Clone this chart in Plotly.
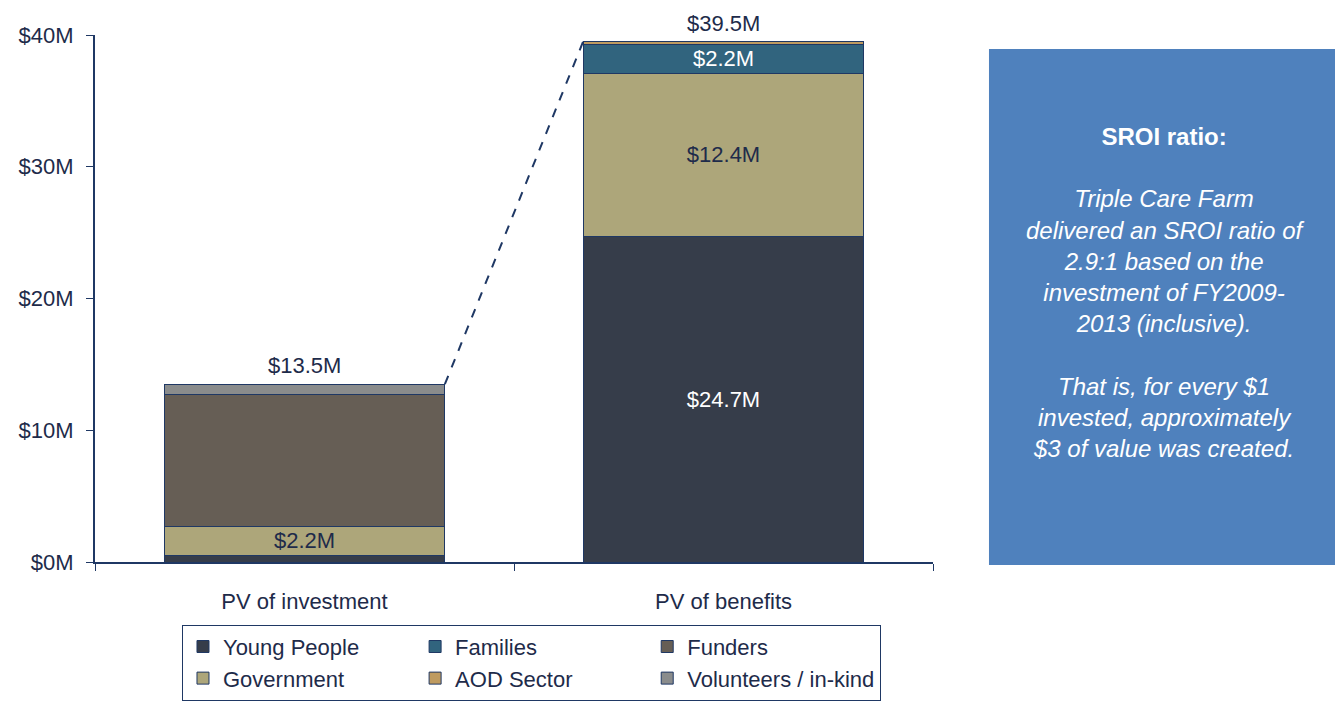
import plotly.graph_objects as go

categories = ["PV of investment", "PV of benefits"]
young_people = [0.5, 24.7]
government = [2.2, 12.4]
funders = [10.0, 0.0]
families = [0.0, 2.2]
aod_sector = [0.0, 0.2]
volunteers = [0.8, 0.0]

young_people_labels = ["", "$24.7M"]
government_labels = ["$2.2M", "$12.4M"]
families_labels = ["", "$2.2M"]

y_ticks = [0, 10, 20, 30, 40]
y_tick_text = [f"${v}M" for v in y_ticks]

NAVY = "#1F3864"
TXT = "#1E2B4A"
FONT = "Liberation Sans, Arial, sans-serif"
FS = 22
BAR_W = 0.67

series = [
    ("Young People", young_people, "#363D4A", young_people_labels, "white", 1),
    ("Government", government, "#ADA67A", government_labels, TXT, 4),
    ("Funders", funders, "#665E55", None, TXT, 3),
    ("Families", families, "#31647E", families_labels, "white", 2),
    ("AOD Sector", aod_sector, "#BF9B60", None, TXT, 5),
    ("Volunteers / in-kind", volunteers, "#8A8C8C", None, TXT, 6),
]

fig = go.Figure()
for name, vals, color, labels, tcolor, rank in series:
    fig.add_trace(go.Bar(
        name=name, x=categories, y=vals, width=BAR_W,
        marker=dict(color=color, line=dict(color=NAVY, width=1)),
        text=labels if labels else None,
        textposition="inside", insidetextanchor="middle", textangle=0,
        textfont=dict(color=tcolor, size=FS, family=FONT),
        legendrank=rank, hoverinfo="name+y",
    ))

totals = [sum(s[1][i] for s in series) for i in range(len(categories))]

for i, cat in enumerate(categories):
    fig.add_annotation(x=cat, y=totals[i], text=f"${totals[i]:.1f}M",
                       showarrow=False, yanchor="bottom", yshift=4,
                       font=dict(size=FS, color=TXT, family=FONT))

# dashed connector from top of investment bar to top of benefits bar
fig.add_shape(type="line", xref="x", yref="y",
              x0=0 + BAR_W / 2, y0=totals[0], x1=1 - BAR_W / 2, y1=totals[1],
              line=dict(color=NAVY, width=2, dash="dash"))

# SROI text box
fig.add_shape(type="rect", xref="paper", yref="paper",
              x0=1.0668, x1=1.4869, y0=-0.0057, y1=0.9734,
              fillcolor="#4F81BD", line=dict(width=0), layer="below")
box_text = ("<b>SROI ratio:</b><br><br>"
            "<i>Triple Care Farm<br>delivered an SROI ratio of<br>2.9:1 based on the<br>"
            "investment of FY2009-<br>2013 (inclusive).<br><br>"
            "That is, for every $1<br>invested, approximately<br>$3 of value was created.</i>")
fig.add_annotation(xref="paper", yref="paper", x=1.2768, y=0.836,
                   text=box_text, showarrow=False, align="center",
                   xanchor="center", yanchor="top",
                   font=dict(size=24, color="white", family=FONT))

fig.update_layout(
    width=1335, height=700,
    margin=dict(l=87, r=410, t=27, b=146, autoexpand=False),
    paper_bgcolor="white", plot_bgcolor="white",
    barmode="stack",
    font=dict(family=FONT, size=FS, color=TXT),
    uniformtext=dict(minsize=FS, mode="show"),
    showlegend=True,
    legend=dict(orientation="h", x=0.1038, y=-0.119, xanchor="left", yanchor="top",
                bordercolor=NAVY, borderwidth=1, bgcolor="white",
                font=dict(size=FS, color=TXT, family=FONT),
                traceorder="normal"),
)
fig.update_xaxes(showline=True, linecolor=NAVY, linewidth=2,
                 ticks="outside", tickson="boundaries", ticklen=7, tickcolor=NAVY,
                 ticklabelstandoff=19,
                 tickfont=dict(size=FS, color=TXT), showgrid=False)
fig.update_yaxes(range=[0, 40], tickmode="array", tickvals=y_ticks, ticktext=y_tick_text,
                 showline=True, linecolor=NAVY, linewidth=2,
                 ticks="outside", ticklen=7, tickcolor=NAVY,
                 ticklabelstandoff=8,
                 tickfont=dict(size=FS, color=TXT), showgrid=False, zeroline=False)

fig.write_html("out.html")
